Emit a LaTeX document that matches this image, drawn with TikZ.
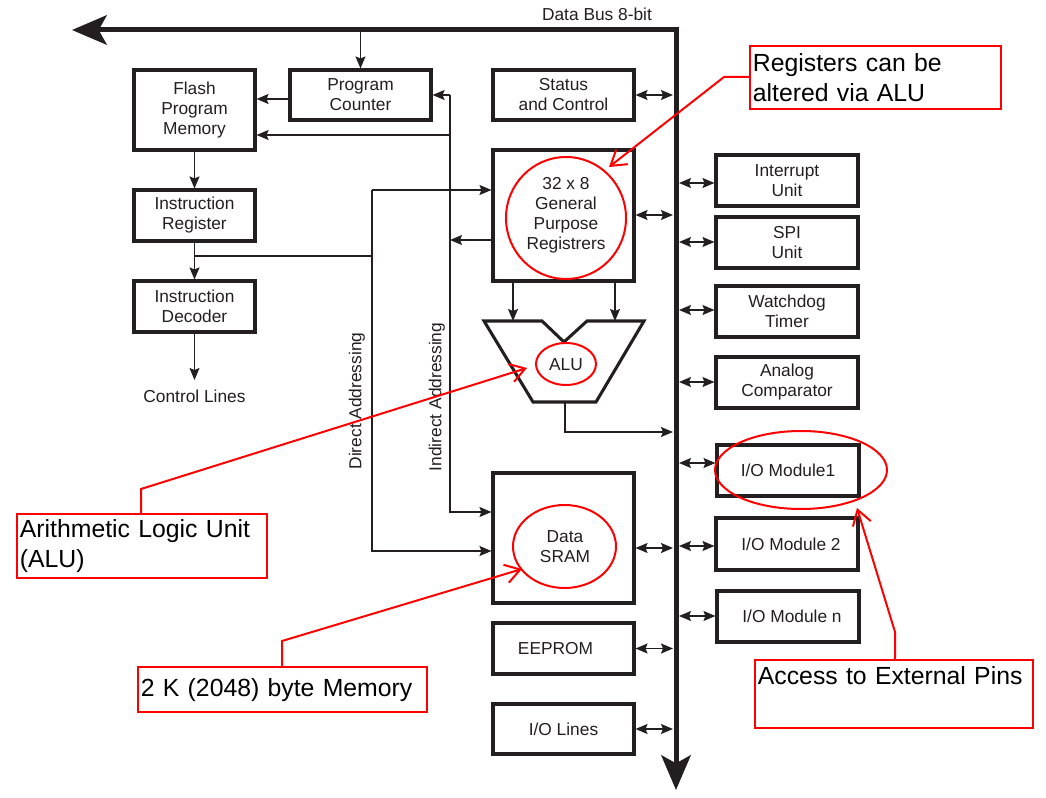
\documentclass[tikz,border=0pt]{standalone}
\usepackage{fontspec}
\setmainfont{Liberation Sans}
\usetikzlibrary{arrows.meta}
\definecolor{ink}{HTML}{231F20}
\definecolor{mark}{HTML}{FF0000}

\begin{document}
\begin{tikzpicture}[x=0.75pt,y=-0.75pt,
  every node/.style={text=ink, font=\fontsize{13}{15}\selectfont, align=center, inner sep=0pt},
  blk/.style 2 args={draw=ink, line width=2.3pt, minimum width=#1*0.75pt, minimum height=#2*0.75pt},
  wire/.style={draw=ink, line width=1pt},
  arr/.style={wire, -{Stealth[length=9pt,width=7.5pt,inset=1.5pt]}},
  dbl/.style={wire, {Stealth[length=9pt,width=7.5pt,inset=1.5pt]}-{Stealth[length=9pt,width=7.5pt,inset=1.5pt]}},
  bus/.style={draw=ink, line width=3.75pt,
    {Stealth[length=26pt,width=22pt,inset=6pt]}-{Stealth[length=26pt,width=22pt,inset=6pt]}},
  ring/.style={draw=mark, line width=1.5pt},
  lead/.style={draw=mark, line width=1.5pt},
  pointer/.style={lead, -{Straight Barb[length=11pt,width=14pt,line width=1.5pt]}},
  callout/.style={draw=mark, line width=1.8pt, text=black, font=\fontsize{18.6}{22}\selectfont,
    align=left, inner xsep=2pt, inner ysep=0pt, anchor=north west}
]
\useasboundingbox (0,0) rectangle (1046,798);

% ---- 8-bit data bus ----
\draw[bus] (72,30) -- (676,30) -- (676,790);
\node (buslbl) at (597,14) {Data Bus 8-bit};
\coordinate (busL) at (673,0);
\coordinate (busR) at (679,0);

% ---- program side ----
\node[blk={121}{80}] (flash) at (194.5,110) {Flash\\Program\\Memory};
\node[blk={141}{50}] (pc) at (360.5,95) {Program\\Counter};
\node[blk={121}{51}] (ir) at (194.5,215.5) {Instruction\\Register};
\node[blk={121}{51}] (idec) at (194.5,306.5) {Instruction\\Decoder};
\node (ctrl) at (194.5,396) {Control Lines};

% ---- core blocks ----
\node[blk={141}{50}] (stat) at (563.5,95) {Status\\and Control};
\node[blk={141}{131}] (gpr) at (563.5,215.5) {};
\node (gprtxt) at (566,215) {32 x 8\\General\\Purpose\\Registrers};
\node[blk={141}{130}] (sram) at (563.5,538) {};
\node (sramtxt) at (565,547) {Data\\SRAM};
\node[blk={141}{51}] (eeprom) at (563.5,648.5) {\hspace*{-12pt}EEPROM};
\node[blk={141}{50}] (iol) at (563.5,729) {I/O Lines};

% ALU outline
\draw[draw=ink, line width=2.3pt, line join=miter]
  (484,321) -- (542,321) -- (564,342) -- (587,321) -- (644,321) -- (596,402) -- (533,402) -- cycle;
\node (alu) at (566,365) {ALU};
\coordinate (aluinL) at (513,321);
\coordinate (aluinR) at (615,321);
\coordinate (aluout) at (565,402);

% ---- peripherals ----
\node[blk={142}{51}] (intr) at (787,180.5) {Interrupt\\Unit};
\node[blk={142}{51}] (spi) at (787,242.5) {SPI\\Unit};
\node[blk={142}{51}] (wdt) at (787,311.5) {Watchdog\\Timer};
\node[blk={142}{51}] (acmp) at (787,382.5) {Analog\\Comparator};
\node[blk={142}{51}] (io1) at (788,470.5) {I/O Module1};
\node[blk={142}{52}] (io2) at (787,544) {\hspace*{6pt}I/O Module 2};
\node[blk={142}{51}] (ion) at (788,616.5) {\hspace*{6pt}I/O Module n};

% ---- addressing paths ----
\coordinate (indtop) at (450,95);
\coordinate (indbot) at (450,512);
\coordinate (dirtop) at (372,190);
\coordinate (dirbot) at (372,551);
\node[rotate=90] (dirlbl) at (357,401) {Direct Addressing};
\node[rotate=90] (indlbl) at (437,397) {Indirect Addressing};

% ---- connectors ----
\draw[arr] (pc.north |- 0,30) -- (pc.north);
\draw[arr] (pc.west |- 0,99) -- (flash.east |- 0,99);
\draw[arr] (flash.south) -- (ir.north);
\draw[arr] (ir.south) -- (idec.north);
\draw[arr] (idec.south) -- (194.5,380);
\draw[wire] (ir.south |- 0,256) -- (dirtop |- 0,256);

\draw[arr] (indtop) -- (pc.east);
\draw[arr] (indtop |- 0,135) -- (flash.east |- 0,135);
\draw[arr] (indtop) -- (indbot) -- (sram.west |- indbot);
\draw[arr] (gpr.west |- 0,240) -- (indtop |- 0,240);

\draw[arr] (dirtop) -- (gpr.west |- dirtop);
\draw[arr] (dirtop) -- (dirbot) -- (sram.west |- dirbot);

\draw[arr] (gpr.south -| aluinL) -- (aluinL);
\draw[arr] (gpr.south -| aluinR) -- (aluinR);
\draw[arr] (aluout) -- (565,432) -- (busL |- 0,432);

% links to the bus
\draw[dbl] (stat.east) -- (stat.east -| busL);
\draw[dbl] (gpr.east |- 0,215) -- (busL |- 0,215);
\draw[dbl] (sram.east |- 0,548) -- (busL |- 0,548);
\draw[dbl] (eeprom.east) -- (eeprom.east -| busL);
\draw[dbl] (iol.east) -- (iol.east -| busL);
\draw[dbl] (busR |- 0,183) -- (intr.west |- 0,183);
\draw[dbl] (busR |- 0,242) -- (spi.west |- 0,242);
\draw[dbl] (busR |- 0,310) -- (wdt.west |- 0,310);
\draw[dbl] (busR |- 0,382) -- (acmp.west |- 0,382);
\draw[dbl] (busR |- 0,463) -- (io1.west |- 0,463);
\draw[dbl] (busR |- 0,546) -- (io2.west |- 0,546);
\draw[dbl] (busR |- 0,616) -- (ion.west |- 0,616);

% ---- highlights ----
\draw[ring] (566,218) ellipse [x radius=60, y radius=61];
\draw[ring] (566,364) ellipse [x radius=30, y radius=21];
\draw[ring] (564.5,546.5) ellipse [x radius=51.5, y radius=41.5];
\draw[ring] (801,470) ellipse [x radius=86, y radius=39];

% ---- notes ----
\node[callout, minimum width=188.25pt, minimum height=47.25pt, text width=184.25pt] (nregs) at (749,45)
  {Registers can be\\altered via ALU};
\node[callout, minimum width=187.5pt, minimum height=48pt, text width=183.5pt] (nalu) at (16,513)
  {Arithmetic Logic Unit\\(ALU)};
\node[callout, minimum width=216.75pt, minimum height=33.75pt, text width=212.75pt] (nmem) at (137,666)
  {2 K (2048) byte Memory};
\node[callout, minimum width=208.5pt, minimum height=51pt, text width=204.5pt] (npins) at (754,659)
  {\mbox{Access to External Pins}\\\strut};

\draw[pointer] (nregs.west |- 0,77) -- (724,77) -- (609,167);
\draw[pointer] (nalu.north -| 141,0) -- (141,489) -- (527,368);
\draw[pointer] (nmem.north -| 282,0) -- (282,641) -- (522,569);
\draw[pointer] (npins.north -| 895,0) -- (895,632) -- (857,508);
\end{tikzpicture}
\end{document}
